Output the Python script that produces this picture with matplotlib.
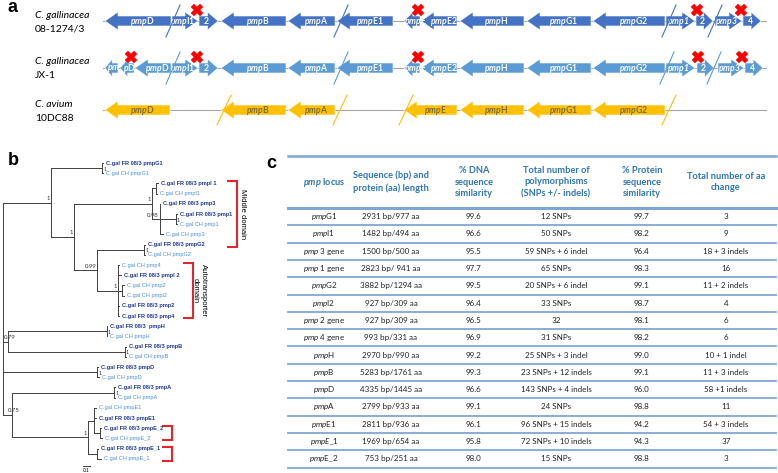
import matplotlib
matplotlib.use('Agg')
import matplotlib.pyplot as plt
from matplotlib.patches import Polygon

plt.rcParams['font.family'] = ['Lato', 'DejaVu Sans']
plt.rcParams['mathtext.fontset'] = 'custom'
plt.rcParams['mathtext.rm'] = 'Lato'
plt.rcParams['mathtext.it'] = 'Lato:italic'
plt.rcParams['mathtext.bf'] = 'Lato:bold'
plt.rcParams['mathtext.bfit'] = 'Lato:italic:bold'

# ---------------- panel a: gene maps (coordinates along the locus) ----------------
gal0813_genes = ['pmpD', 'pmpI1', '2', 'pmpB', 'pmpA', 'pmpE1', 'pmpE', 'pmpE2', 'pmpH',
                 'pmpG1', 'pmpG2', 'pmp1', '2', 'pmp3', '4']
gal0813_start = [105, 172, 199, 221, 288, 337, 404, 421, 460, 527, 593, 666, 696, 715, 743]
gal0813_end = [171, 198, 218, 286, 335, 393, 420, 457, 524, 591, 665, 695, 713, 742, 761]
gal0813_strand = [-1, 1, 1, -1, -1, -1, -1, -1, -1, -1, -1, 1, 1, 1, 1]
gal0813_breaks = [173, 341, 669, 715]
gal0813_stops = [197, 418, 697, 741]

jx1_genes = ['pm', 'pD', 'pmpD', 'pmpI1', '2', 'pmpB', 'pmpA', 'pmpE1', 'pmpE', 'pmpE2',
             'pmpH', 'pmpG1', 'pmpG2', 'pmp1', '2', 'pmp3', '4']
jx1_start = [105, 120, 135, 172, 199, 221, 288, 337, 404, 421, 460, 527, 593, 666, 697, 718, 745]
jx1_end = [118, 134, 171, 198, 218, 286, 335, 393, 420, 457, 524, 591, 665, 695, 714, 744, 763]
jx1_strand = [-1, -1, -1, 1, 1, -1, -1, -1, -1, -1, -1, -1, -1, 1, 1, 1, 1]
jx1_breaks = [173, 341, 667, 714]
jx1_stops = [131, 197, 418, 698, 742]

avium_genes = ['pmpD', 'pmpB', 'pmpA', 'pmpE', 'pmpH', 'pmpG1', 'pmpG2']
avium_start = [105, 221, 288, 404, 460, 527, 593]
avium_end = [170, 286, 335, 457, 524, 591, 665]
avium_strand = [-1, -1, -1, -1, -1, -1, -1]
avium_breaks = [224, 340, 406, 669]
avium_stops = []

strain_species = ['C. gallinacea', 'C. gallinacea', 'C. avium']
strain_ids = ['08-1274/3', 'JX-1', '10DC88']

# ---------------- panel b: tree ----------------
tip_names = ['C.gal FR 08/3 pmpG1', 'C.gal CH pmpG1', 'C.gal FR 08/3 pmpl 1', 'C.gal CH pmpl1',
             'C.gal FR 08/3 pmp3', 'C.gal FR 08/3 pmp1', 'C.gal CH pmp1', 'C.gal CH pmp3',
             'C.gal FR 08/3 pmpG2', 'C.gal CH pmpG2', 'C.gal CH pmp4', 'C.gal FR 08/3 pmpl 2',
             'C.gal CH pmp2', 'C.gal CH pmpl2', 'C.gal FR 08/3 pmp2', 'C.gal FR 08/3 pmp4',
             'C.gal FR 08/3  pmpH', 'C.gal CH pmpH', 'C.gal FR 08/3 pmpB', 'C.gal CH pmpB',
             'C.gal FR 08/3 pmpD', 'C.gal CH pmpD', 'C.gal FR 08/3 pmpA', 'C.gal CH pmpA',
             'C.gal CH pmpE1', 'C.gal FR 08/3 pmpE1', 'C.gal FR 08/3 pmpE_2', 'C.gal CH pmpE_2',
             'C.gal FR 08/3 pmpE_1', 'C.gal CH pmpE_1']
# cumulative branch length of each tip (in tree units, 0.1 = scale bar)
tip_depth = [1.43, 1.43, 2.21, 2.20, 2.24, 2.49, 2.49, 2.29, 2.03, 2.03, 1.66, 1.68, 1.73,
             1.73, 1.66, 1.66, 1.49, 1.49, 1.76, 1.76, 1.36, 1.37, 1.60, 1.60, 1.33, 1.33,
             1.40, 1.41, 1.36, 1.40]
# internal nodes: depth, children, support
tree_nodes = {
    'G1': (1.42, [0, 1], '1'),
    'I1': (2.18, [2, 3], ''),
    'p1': (2.47, [5, 6], '1'),
    'F': (2.24, [4, 'p1', 7], '0.98'),
    'C': (2.13, ['I1', 'F'], '1'),
    'G2': (2.02, [8, 9], '1'),
    'AT2': (1.70, [12, 13], ''),
    'E': (1.65, [10, 11, 'AT2', 14, 15], '1'),
    'D': (1.35, ['G2', 'E'], '0.99'),
    'B': (1.01, ['C', 'D'], '1'),
    'A': (0.69, ['G1', 'B'], '1'),
    'H': (1.48, [16, 17], '1'),
    'Bp': (1.74, [18, 19], '1'),
    'HB': (0.07, ['H', 'Bp'], '0.79'),
    'Dp': (1.35, [20, 21], '1'),
    'Ap': (1.59, [22, 23], '1'),
    'E2': (1.39, [26, 27], ''),
    'E1': (1.30, [24, 25, 'E2'], ''),
    'E1b': (1.35, [28, 29], ''),
    'Eall': (1.21, ['E1', 'E1b'], '1'),
    'A75': (0.13, ['Ap', 'Eall'], '0.75'),
    'root': (0.0, ['A', 'HB', 'Dp', 'A75'], ''),
}
clade_brackets = [(2, 8, 'Middle domain'), (10, 15, 'Autotransporter\ndomain'),
                  (26, 27, ''), (28, 29, '')]

# ---------------- panel c: table ----------------
col_headers = [r'$\mathbfit{pmp}$ locus', 'Sequence (bp) and\nprotein (aa) length',
               '% DNA\nsequence\nsimilarity', 'Total number of\npolymorphisms\n(SNPs +/- indels)',
               '% Protein\nsequence\nsimilarity', 'Total number of aa\nchange']
pmp_locus = [r'$\it{pmp}$G1', r'$\it{pmp}$I1', r'$\it{pmp}$ 3 gene', r'$\it{pmp\ 1}$ gene',
             r'$\it{pmp}$G2', r'$\it{pmp}$I2', r'$\it{pmp}$ 2 gene', r'$\it{pmp\ 4}$ gene',
             r'$\it{pmp}$H', r'$\it{pmp}$B', r'$\it{pmp}$D', r'$\it{pmp}$A', r'$\it{pmp}$E1',
             r'$\it{pmpE\_1}$', r'$\it{pmp}$E_2']
seq_length = ['2931 bp/977 aa', '1482 bp/494 aa', '1500 bp/500 aa', '2823 bp/ 941 aa',
              '3882 bp/1294 aa', '927 bp/309 aa', '927 bp/309 aa', '993 bp/331 aa',
              '2970 bp/990 aa', '5283 bp/1761 aa', '4335 bp/1445 aa', '2799 bp/933 aa',
              '2811 bp/936 aa', '1969 bp/654 aa', '753 bp/251 aa']
dna_similarity = ['99.6', '96.6', '95.5', '97.7', '99.5', '96.4', '96.5', '96.9', '99.2',
                  '99.3', '96.6', '99.1', '96.1', '95.8', '98.0']
polymorphisms = ['12 SNPs', '50 SNPs', '59 SNPs + 6 indel', '65 SNPs', '20 SNPs + 6 indel',
                 '33 SNPs', '32', '31 SNPs', '25 SNPs + 3 indel', '23 SNPs + 12 indels',
                 '143 SNPs + 4 indels', '24 SNPs', '96 SNPs + 15 indels', '72 SNPs + 10 indels',
                 '15 SNPs']
protein_similarity = ['99.7', '98.2', '96.4', '98.3', '99.1', '98.7', '98.1', '98.2', '99.0',
                      '99.1', '96.0', '98.8', '94.2', '94.3', '98.8']
aa_change = ['3', '9', '18 + 3 indels', '16', '11 + 2 indels', '4', '6', '6', '10 + 1 indel',
             '11 + 3 indels', '58 +1 indels', '11', '54 + 3 indels', '37', '3']


def gene_label(name):
    if name in ('pmp1', 'pmp3', 'pm'):
        return r'$\mathbfit{%s}$' % name
    if name == 'pD':
        return r'$\mathbfit{p}$D'
    if name.startswith('pmp'):
        return r'$\mathbfit{pmp}$' + name[3:]
    return name


fig = plt.figure(figsize=(7.78, 4.73), dpi=100)
ax = fig.add_axes([0, 0, 1, 1])
ax.set_xlim(0, 778)
ax.set_ylim(473, 0)
ax.axis('off')

# panel a
rows = [
    (gal0813_genes, gal0813_start, gal0813_end, gal0813_strand, gal0813_breaks, gal0813_stops,
     '#4472C4', '#4472C4', 'white', 21),
    (jx1_genes, jx1_start, jx1_end, jx1_strand, jx1_breaks, jx1_stops,
     '#5B9BD5', '#5B9BD5', 'white', 68),
    (avium_genes, avium_start, avium_end, avium_strand, avium_breaks, avium_stops,
     '#FFC000', '#FFC000', '#7a6a3a', 110),
]
for k, (genes, st, en, strand, breaks, stops, fc, bc, tc, yc) in enumerate(rows):
    ax.plot([103, 766], [yc, yc], color='#A6A6A6', lw=0.8, zorder=1)
    for g, x0, x1, s in zip(genes, st, en, strand):
        L = x1 - x0
        head = min(13, L * 0.55)
        bh, hh = 5, 9
        if s < 0:
            pts = [(x0, yc), (x0 + head, yc - hh), (x0 + head, yc - bh), (x1, yc - bh),
                   (x1, yc + bh), (x0 + head, yc + bh), (x0 + head, yc + hh)]
            tx = (x0 + head * 0.7 + x1) / 2
        else:
            pts = [(x1, yc), (x1 - head, yc - hh), (x1 - head, yc - bh), (x0, yc - bh),
                   (x0, yc + bh), (x1 - head, yc + bh), (x1 - head, yc + hh)]
            tx = (x0 + x1) / 2 - 2
        ax.add_patch(Polygon(pts, closed=True, fc=fc, ec='white', lw=0.4, zorder=2))
        ax.text(tx, yc + 0.3, gene_label(g), color=tc, fontsize=6.2, fontweight='bold',
                ha='center', va='center', zorder=3)
    dy = 16 if k < 2 else 15
    dx = 7
    for b in breaks:
        ax.plot([b - dx, b + dx], [yc + dy, yc - dy], color=bc, lw=0.8, zorder=4)
    if stops:
        ax.plot(stops, [yc - 11] * len(stops), 'X', color='#FF0000', ms=8.5, mec='#FF0000',
                mew=0.3, zorder=5)
    ax.text(35, yc - 6, strain_species[k], fontsize=7.5, style='italic', va='center')
    ax.text(35, yc + 8, strain_ids[k], fontsize=7.5, va='center')

ax.text(8, 8, 'a', fontsize=13, fontweight='bold', family='Liberation Sans', va='center')
ax.text(8, 160, 'b', fontsize=13, fontweight='bold', family='Liberation Sans', va='center')
ax.text(266, 163, 'c', fontsize=13, fontweight='bold', family='Liberation Sans', va='center')

# panel b: tree (x = root + depth * scale)
root_x, unit, y_top, y_step = 3, 70.0, 163, 10.2
tip_y = [y_top + i * y_step for i in range(len(tip_names))]
node_y = {}


def ypos(c):
    if isinstance(c, int):
        return tip_y[c]
    if c not in node_y:
        ys = [ypos(ch) for ch in tree_nodes[c][1]]
        node_y[c] = (min(ys) + max(ys)) / 2
    return node_y[c]


def xpos(c):
    d = tip_depth[c] if isinstance(c, int) else tree_nodes[c][0]
    return root_x + d * unit


tcol = '#404040'
for name, (d, children, bs) in tree_nodes.items():
    nx = xpos(name)
    ys = [ypos(c) for c in children]
    ax.plot([nx, nx], [min(ys), max(ys)], color=tcol, lw=0.7)
    for c in children:
        ax.plot([nx, xpos(c)], [ypos(c), ypos(c)], color=tcol, lw=0.7)
    if bs:
        if all(isinstance(c, int) for c in children):
            ax.text(nx + 1, ypos(name) + 1, bs, fontsize=4, ha='left', va='center', color='#333333')
        elif nx < 20:
            ax.text(nx - 4, ypos(name) - 1.5, bs, fontsize=4.3, ha='left', va='bottom', color='#333333')
        else:
            ax.text(nx - 1, ypos(name) - 1.5, bs, fontsize=4.3, ha='right', va='bottom', color='#333333')

for i, t in enumerate(tip_names):
    fr = ' FR ' in t
    ax.text(xpos(i) + 3, tip_y[i], t, fontsize=4.1, family='Liberation Sans',
            fontweight='bold' if fr else 'normal', color='#1F3A93' if fr else '#4A90D9',
            ha='left', va='center')

# scale bar 0.1
ax.plot([83, 83 + 0.1 * unit], [466, 466], color=tcol, lw=0.7)
ax.text(83 + 0.05 * unit, 470.5, '0.1', fontsize=3.5, ha='center', va='center')

bracket_x = {'Middle domain': 237, 'Autotransporter\ndomain': 193, '': 172}
for i0, i1, lab in clade_brackets:
    bx = bracket_x[lab]
    y0, y1 = tip_y[i0] - 2, tip_y[i1] + 2
    ax.plot([bx - 9, bx, bx, bx - 9], [y0, y0, y1, y1], color='#E3262A', lw=1.5,
            solid_joinstyle='miter')
    if lab:
        ax.text(bx + 6, (y0 + y1) / 2, lab, rotation=-90, fontsize=5.5, ha='center',
                va='center', family='Liberation Sans', linespacing=1.3)

# panel c: table
col_x = [324, 391, 474, 556, 642, 726]
tab_x0, tab_x1, head_top, head_bot, row_h = 288, 776, 156, 208, 17.3
line_c = '#7FA7D6'
ax.plot([tab_x0, tab_x1], [head_top, head_top], color=line_c, lw=1.8)
ax.plot([tab_x0, tab_x1], [head_bot, head_bot], color=line_c, lw=2.2)
for x, h in zip(col_x, col_headers):
    ax.text(x, (head_top + head_bot) / 2, h, fontsize=6.7, fontweight='bold', color='#2E75B6',
            ha='center', va='center', linespacing=1.4)
columns = [pmp_locus, seq_length, dna_similarity, polymorphisms, protein_similarity, aa_change]
for i in range(len(pmp_locus)):
    y = head_bot + (i + 0.5) * row_h
    for x, col in zip(col_x, columns):
        ax.text(x, y, col[i], fontsize=5.8, color='#222222', ha='center', va='center')
    ax.plot([tab_x0, tab_x1], [head_bot + (i + 1) * row_h] * 2, color=line_c, lw=1.3)

fig.savefig('out.png', dpi=100)
